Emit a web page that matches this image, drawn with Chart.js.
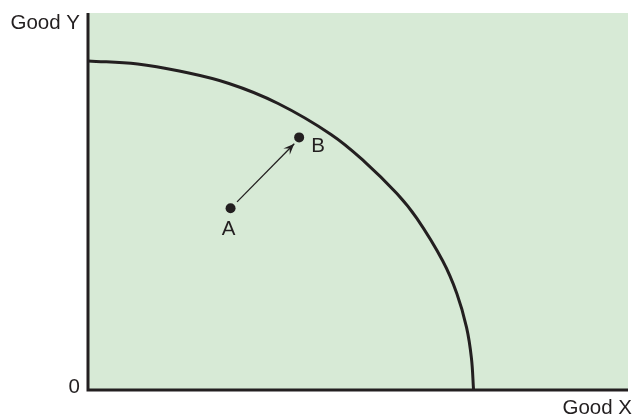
<!DOCTYPE html>
<html>
<head>
<meta charset="utf-8">
<script src="https://cdn.jsdelivr.net/npm/chart.js@4/dist/chart.umd.min.js"></script>
<style>
  html, body { margin: 0; padding: 0; background: #fff; }
  #wrap { width: 633px; height: 416px; position: relative; }
</style>
</head>
<body>
<div id="wrap"><canvas id="ppf"></canvas></div>
<script>
// frontier (0-100 units on both axes)
const frontierX = [0, 9.2, 16.9, 26.1, 35.2, 45.0, 51.2, 57.2, 60.9, 65.7, 68.3, 70.1, 71.0, 71.4];
const frontierY = [87.3, 86.5, 84.6, 81.3, 76.0, 67.8, 60.6, 52.1, 45.5, 34.2, 25.6, 16.6, 8.5, 0];

const pointLabels = ['A', 'B'];
const pointX = [26.4, 39.1];
const pointY = [48.2, 67.0];

const arrowX = [27.6, 38.2];
const arrowY = [49.9, 65.3];

const xAxisTitle = 'Good X';
const yAxisTitle = 'Good Y';
const originLabel = '0';

const ink = '#231f20';
const font = '20.5px "Liberation Sans", Arial, sans-serif';

const extras = {
    id: 'extras',
    beforeDatasetsDraw(chart) {
        const { ctx, chartArea: a } = chart;
        ctx.save();
        ctx.fillStyle = '#d7ead6';
        ctx.fillRect(a.left, a.top, a.right - a.left, a.bottom - a.top);
        ctx.restore();
    },
    afterDatasetsDraw(chart) {
        const { ctx, chartArea: a, scales } = chart;
        ctx.save();
        // axes
        ctx.strokeStyle = ink;
        ctx.lineWidth = 3;
        ctx.beginPath();
        ctx.moveTo(a.left, a.top);
        ctx.lineTo(a.left, a.bottom);
        ctx.lineTo(a.right, a.bottom);
        ctx.stroke();

        // arrowhead
        const x0 = scales.x.getPixelForValue(arrowX[0]), y0 = scales.y.getPixelForValue(arrowY[0]);
        const x1 = scales.x.getPixelForValue(arrowX[1]), y1 = scales.y.getPixelForValue(arrowY[1]);
        const ang = Math.atan2(y1 - y0, x1 - x0);
        const len = 11, half = 4.5;
        ctx.fillStyle = ink;
        ctx.beginPath();
        ctx.moveTo(x1, y1);
        ctx.lineTo(x1 - len * Math.cos(ang) + half * Math.sin(ang), y1 - len * Math.sin(ang) - half * Math.cos(ang));
        ctx.lineTo(x1 - 0.6 * len * Math.cos(ang), y1 - 0.6 * len * Math.sin(ang));
        ctx.lineTo(x1 - len * Math.cos(ang) - half * Math.sin(ang), y1 - len * Math.sin(ang) + half * Math.cos(ang));
        ctx.closePath();
        ctx.fill();

        // text
        ctx.font = font;
        ctx.fillStyle = ink;
        ctx.textBaseline = 'middle';
        ctx.textAlign = 'right';
        ctx.fillText(yAxisTitle, a.left - 8, 23);
        ctx.fillText(originLabel, a.left - 8, a.bottom - 3);
        ctx.fillText(xAxisTitle, 632, a.bottom + 18);

        // point labels
        ctx.textAlign = 'center';
        const ax = scales.x.getPixelForValue(pointX[0]), ay = scales.y.getPixelForValue(pointY[0]);
        ctx.fillText(pointLabels[0], ax - 2, ay + 21);
        const bx = scales.x.getPixelForValue(pointX[1]), by = scales.y.getPixelForValue(pointY[1]);
        ctx.textAlign = 'left';
        ctx.fillText(pointLabels[1], bx + 12, by + 9);
        ctx.restore();
    }
};

new Chart(document.getElementById('ppf'), {
    type: 'scatter',
    data: {
        datasets: [
            {
                data: frontierX.map((x, i) => ({ x, y: frontierY[i] })),
                showLine: true,
                borderColor: ink,
                borderWidth: 3,
                pointRadius: 0,
                tension: 0.4
            },
            {
                data: arrowX.map((x, i) => ({ x, y: arrowY[i] })),
                showLine: true,
                borderColor: ink,
                borderWidth: 1.3,
                pointRadius: 0
            },
            {
                data: pointX.map((x, i) => ({ x, y: pointY[i] })),
                showLine: false,
                pointRadius: 5,
                backgroundColor: ink,
                borderColor: ink,
                borderWidth: 0
            }
        ]
    },
    options: {
        responsive: true,
        maintainAspectRatio: false,
        animation: false,
        layout: { padding: { left: 88, top: 13, right: 0, bottom: 26 } },
        plugins: { legend: { display: false }, tooltip: { enabled: false } },
        scales: {
            x: { type: 'linear', min: 0, max: 100, display: false },
            y: { type: 'linear', min: 0, max: 100, display: false }
        }
    },
    plugins: [extras]
});
</script>
</body>
</html>
